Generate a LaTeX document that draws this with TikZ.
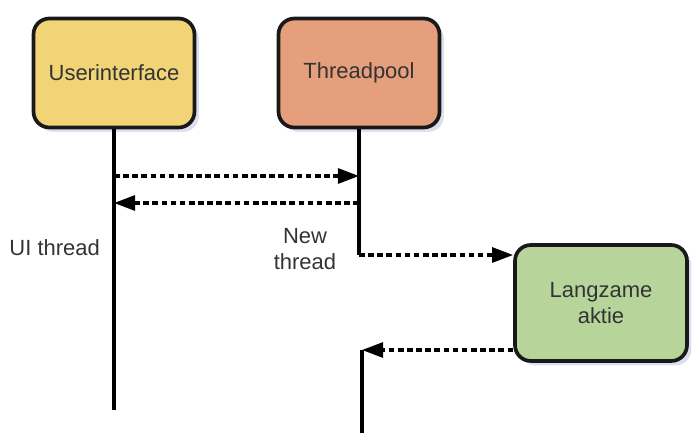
\documentclass[tikz,border=0pt]{standalone}
\usepackage{fontspec}
\setmainfont{Liberation Sans}
\usetikzlibrary{arrows.meta,shadows}
\definecolor{uiyellow}{RGB}{241,212,118}
\definecolor{poolsalmon}{RGB}{229,159,125}
\definecolor{slowgreen}{RGB}{183,213,155}
\definecolor{shadowblue}{RGB}{196,204,226}

\begin{document}
\begin{tikzpicture}[x=0.02cm, y=-0.02cm, >={Triangle[length=12pt,width=8.5pt]},
    actor/.style={draw=black!90, line width=2.1pt, rounded corners=9pt,
      align=center, text=black!80, font=\fontsize{12.5}{15}\selectfont,
      drop shadow={shadow xshift=2.5pt, shadow yshift=-2.5pt, fill=shadowblue, opacity=0.6}},
    msg/.style={->, line width=1.8pt, dash pattern=on 3.2pt off 2pt},
    life/.style={line width=2pt},
    lbl/.style={text=black!80, align=center, font=\fontsize{12.5}{15}\selectfont}]
  \useasboundingbox (0,0) rectangle (697,433);
  % actors
  \node[actor, fill=uiyellow, minimum width=3.22cm, minimum height=2.18cm] (ui) at (114,73) {Userinterface};
  \node[actor, fill=poolsalmon, minimum width=3.22cm, minimum height=2.18cm] (tp) at (359,73) {Threadpool};
  \node[actor, fill=slowgreen, minimum width=3.44cm, minimum height=2.32cm] (la) at (601,303) {Langzame\\aktie};
  % points on the lifelines
  \coordinate (uiend) at (114,410);
  \coordinate (ui1) at (114,176);
  \coordinate (tp1) at (359,176);
  \coordinate (ui2) at (114,203);
  \coordinate (tp2) at (359,203);
  \coordinate (tpbend) at (359,255);
  \coordinate (ret) at (362,350);
  \coordinate (retend) at (362,433);
  % lifelines
  \draw[life] (ui.south) -- (uiend);
  \draw[life] (tp.south) -- (tpbend);
  \draw[life] (ret) -- (retend);
  % messages
  \draw[msg] (ui1) -- (tp1);
  \draw[msg] (tp2) -- (ui2);
  \draw[msg] (tpbend) -- (tpbend -| la.west);
  \draw[msg] (ret -| la.west) -- (ret);
  % labels
  \node[lbl, anchor=east] (uilbl) at (106,248) {UI thread};
  \node[lbl] (newlbl) at (305,249) {New\\thread};
\end{tikzpicture}
\end{document}
